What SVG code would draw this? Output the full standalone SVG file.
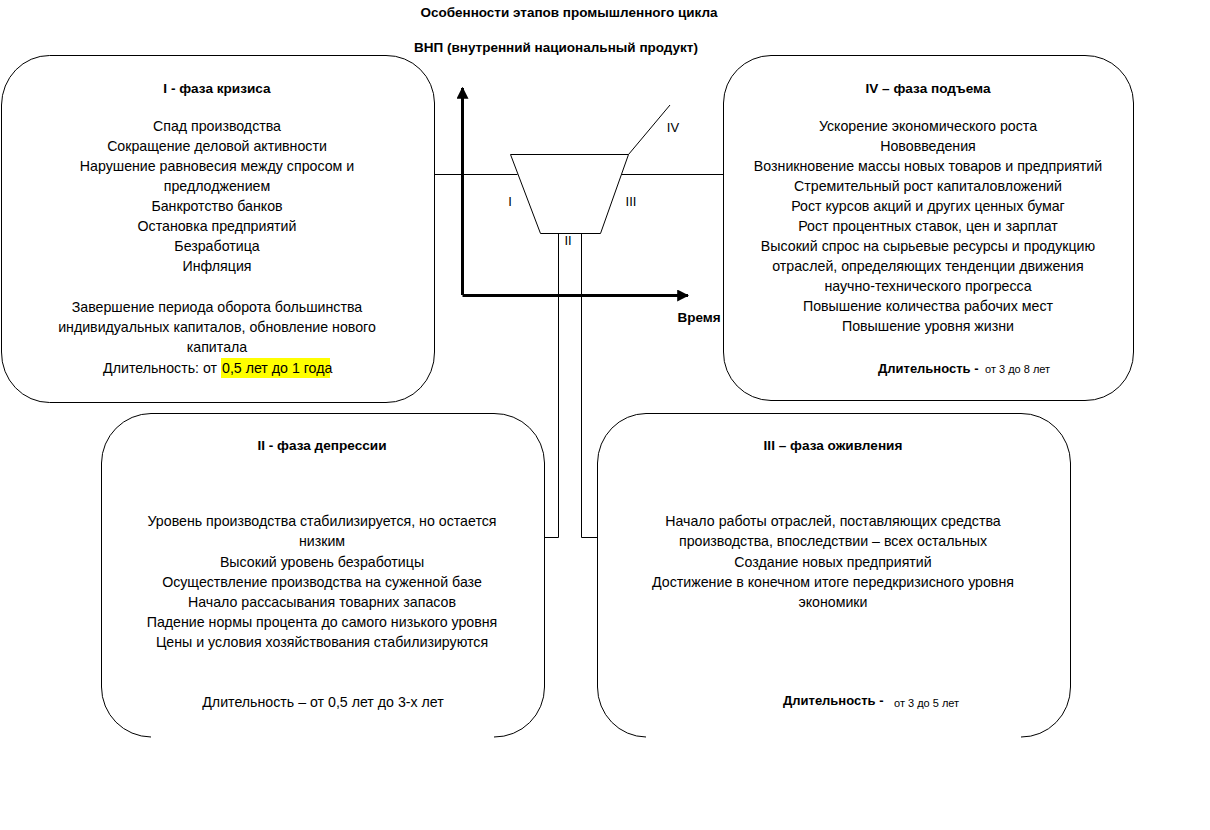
<svg xmlns="http://www.w3.org/2000/svg" width="1210" height="830" viewBox="0 0 1210 830">
<style>
.box{fill:none;stroke:#000;stroke-width:1}
.ln{fill:none;stroke:#000;stroke-width:1}
.ax{fill:none;stroke:#000;stroke-width:3}
text{font-family:"Liberation Sans",Arial,sans-serif;font-size:14.2px;fill:#000;text-anchor:middle}
.h{font-weight:bold;font-size:13.6px}
.d{font-weight:bold;font-size:13px;text-anchor:start}
.t{font-weight:bold;font-size:13.5px}
.lbl{font-size:13px}
.sm{font-size:11px;text-anchor:start}
.st{text-anchor:start}
.en{text-anchor:end}
</style>
<defs>
<marker id="ah" viewBox="0 0 10 10" refX="9" refY="5" markerWidth="4" markerHeight="4" orient="auto" markerUnits="strokeWidth">
<path d="M0,0 L10,5 L0,10 z" fill="#000"/>
</marker>
</defs>
<rect width="1210" height="830" fill="#fff"/>
<g id="title">
<text x="569" y="17" class="t">Особенности этапов промышленного цикла</text>
<text x="556" y="52" class="t">ВНП (внутренний национальный продукт)</text>
<text x="699" y="322" class="t">Время</text>
</g>
<g id="connectors">
<path class="ax" d="M462.5,295 V88" marker-end="url(#ah)"/>
<path class="ax" d="M462.5,295.5 H688" marker-end="url(#ah)"/>
<path class="ln" d="M510.5,154.5 H628.5 L600.5,233.5 H540.5 Z"/>
<path class="ln" d="M628.5,154.5 L670,105"/>
<path class="ln" d="M434,174.5 H517.5 M621.5,174.5 H723"/>
<path class="ln" d="M558.5,233.5 V537.5 H544"/>
<path class="ln" d="M581.5,233.5 V537.5 H597"/>
<text x="510" y="206" class="lbl">I</text>
<text x="631" y="206" class="lbl">III</text>
<text x="568" y="245" class="lbl">II</text>
<text x="673" y="132" class="lbl">IV</text>
</g>
<g id="phase1">
<path class="box" d="M1.5,105 A48,50 0 0 1 49.5,55.5 H386 A48,48 0 0 1 434.5,103 V352 A48,50 0 0 1 386,402.5 H49.5 A48,50 0 0 1 1.5,352 Z"/>
<text x="217" y="93" class="h">I  - фаза кризиса</text>
<text x="217" y="131">Спад производства</text>
<text x="217" y="151">Сокращение деловой активности</text>
<text x="217" y="171">Нарушение равновесия между спросом и</text>
<text x="217" y="191">предлоджением</text>
<text x="217" y="211">Банкротство банков</text>
<text x="217" y="231">Остановка предприятий</text>
<text x="217" y="251">Безработица</text>
<text x="217" y="271">Инфляция</text>
<text x="217" y="312">Завершение периода оборота большинства</text>
<text x="217" y="332">индивидуальных капиталов, обновление нового</text>
<text x="217" y="352">капитала</text>
<rect x="221" y="358" width="109" height="20" fill="#ffff00"/>
<text x="217" y="373" class="en">Длительность: от</text>
<text x="222" y="373" class="st">0,5 лет до 1 года</text>
</g>
<g id="phase4">
<path class="box" d="M723.5,103 A48,48 0 0 1 771,55.5 H1085 A48,48 0 0 1 1133.5,103 V352 A48,48 0 0 1 1085,400.5 H771 A48,48 0 0 1 723.5,352 Z"/>
<text x="928" y="93" class="h">IV – фаза подъема</text>
<text x="928" y="131">Ускорение экономического роста</text>
<text x="928" y="151">Нововведения</text>
<text x="928" y="171">Возникновение массы новых товаров и предприятий</text>
<text x="928" y="191">Стремительный рост капиталовложений</text>
<text x="928" y="211">Рост курсов акций и других ценных бумаг</text>
<text x="928" y="231">Рост процентных ставок, цен и зарплат</text>
<text x="928" y="251">Высокий спрос на сырьевые ресурсы и продукцию</text>
<text x="928" y="271">отраслей, определяющих тенденции движения</text>
<text x="928" y="291">научно-технического прогресса</text>
<text x="928" y="311">Повышение количества рабочих мест</text>
<text x="928" y="331">Повышение уровня жизни</text>
<text x="878" y="373" class="d">Длительность -</text>
<text x="985" y="373" class="sm">от 3 до 8 лет</text>
</g>
<g id="phase2">
<path class="box" d="M151,737 A50,50 0 0 1 101.5,687 V463 A50,50 0 0 1 151,413.5 H494 A50,50 0 0 1 544.5,463 V687 A50,50 0 0 1 494,737"/>
<text x="322" y="450" class="h">II  - фаза депрессии</text>
<text x="322" y="526">Уровень производства стабилизируется, но остается</text>
<text x="322" y="546">низким</text>
<text x="322" y="567">Высокий уровень безработицы</text>
<text x="322" y="587">Осуществление производства на суженной базе</text>
<text x="322" y="607">Начало  рассасывания товарних запасов</text>
<text x="322" y="627">Падение нормы процента до самого низького уровня</text>
<text x="322" y="647">Цены и условия хозяйствования стабилизируются</text>
<text x="323" y="707">Длительность – от 0,5 лет до 3-х лет</text>
</g>
<g id="phase3">
<path class="box" d="M646,737 A49,50 0 0 1 597.5,687 V463 A49,50 0 0 1 646,413.5 H1021 A49,50 0 0 1 1070.5,463 V687 A49,50 0 0 1 1021,737"/>
<text x="833" y="450" class="h">III – фаза оживления</text>
<text x="833" y="526">Начало работы отраслей, поставляющих средства</text>
<text x="833" y="546">производства, впоследствии – всех остальных</text>
<text x="833" y="567">Создание новых предприятий</text>
<text x="833" y="587">Достижение в конечном итоге передкризисного уровня</text>
<text x="833" y="607">экономики</text>
<text x="783" y="705" class="d">Длительность -</text>
<text x="894" y="707" class="sm">от 3 до 5 лет</text>
</g>
</svg>
